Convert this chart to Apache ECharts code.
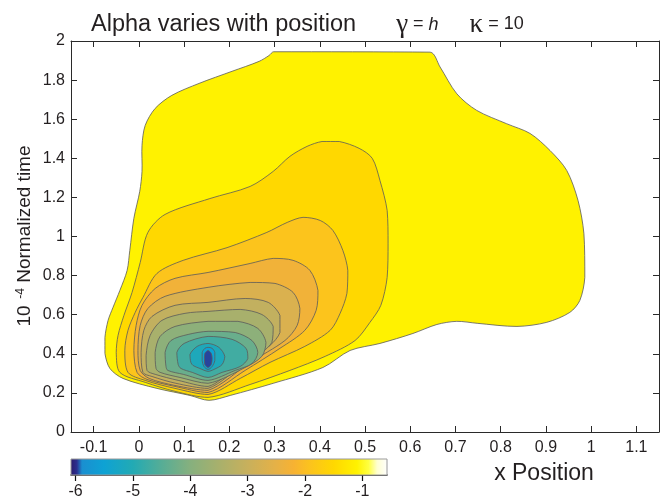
<!DOCTYPE html>
<html>
<head>
<meta charset="utf-8">
<script src="https://cdn.jsdelivr.net/npm/echarts@6/dist/echarts.min.js"></script>
<style>
  html, body { margin: 0; padding: 0; background: #ffffff; }
  #chart { width: 669px; height: 500px; }
</style>
</head>
<body>
<div id="chart"></div>
<script>
// ---- axis ticks ----
const xTicks = [-0.1, 0, 0.1, 0.2, 0.3, 0.4, 0.5, 0.6, 0.7, 0.8, 0.9, 1, 1.1];
const yTicks = [0, 0.2, 0.4, 0.6, 0.8, 1, 1.2, 1.4, 1.6, 1.8, 2];
const cbTicks = [-6, -5, -4, -3, -2, -1];

// ---- contour levels (log alpha), outermost first ----
const levels = [-1.1, -1.5, -1.9, -2.3, -2.7, -3.1, -3.5, -3.9, -4.3, -4.7, -5.1, -5.5, -5.95];

// ---- contour outlines, [x position, normalized time] ----
const contour0 = [[0.298,1.945],[0.644,1.943],[0.666,1.867],[0.703,1.730],[0.747,1.645],[0.813,1.577],[0.865,1.527],[0.909,1.440],[0.946,1.338],[0.971,1.184],[0.984,1.014],[0.986,0.791],[0.975,0.673],[0.953,0.612],[0.902,0.561],[0.836,0.540],[0.748,0.556],[0.703,0.566],[0.659,0.550],[0.606,0.504],[0.533,0.453],[0.467,0.417],[0.407,0.330],[0.297,0.249],[0.202,0.187],[0.155,0.162],[0.113,0.187],[0.040,0.223],[-0.035,0.274],[-0.064,0.325],[-0.075,0.402],[-0.075,0.484],[-0.068,0.571],[-0.057,0.638],[-0.042,0.724],[-0.026,0.826],[-0.020,0.929],[-0.011,1.093],[0.002,1.231],[0.007,1.333],[0.007,1.466],[0.014,1.568],[0.036,1.655],[0.073,1.722],[0.133,1.783],[0.206,1.845],[0.266,1.896],[0.288,1.926]];
const contour1 = [[-0.042,0.305],[-0.050,0.407],[-0.046,0.494],[-0.033,0.596],[-0.015,0.714],[0.003,0.867],[0.020,1.021],[0.058,1.113],[0.157,1.194],[0.246,1.256],[0.297,1.333],[0.334,1.410],[0.372,1.461],[0.405,1.486],[0.443,1.486],[0.487,1.451],[0.516,1.400],[0.533,1.287],[0.549,1.133],[0.551,0.966],[0.549,0.791],[0.535,0.648],[0.511,0.561],[0.478,0.468],[0.412,0.387],[0.334,0.315],[0.246,0.243],[0.153,0.177],[0.080,0.208],[0.014,0.254]];
const contour2 = [[-0.024,0.305],[-0.031,0.417],[-0.024,0.520],[-0.008,0.612],[0.009,0.688],[0.040,0.811],[0.098,0.878],[0.195,0.943],[0.283,1.021],[0.328,1.072],[0.363,1.098],[0.401,1.082],[0.429,1.031],[0.451,0.929],[0.462,0.827],[0.460,0.709],[0.445,0.607],[0.423,0.520],[0.367,0.438],[0.290,0.356],[0.224,0.274],[0.153,0.192],[0.080,0.223],[0.014,0.264]];
const contour3 = [[-0.004,0.305],[-0.011,0.417],[-0.006,0.545],[0.007,0.648],[0.036,0.734],[0.080,0.786],[0.153,0.816],[0.246,0.862],[0.297,0.888],[0.341,0.878],[0.378,0.827],[0.396,0.724],[0.392,0.622],[0.367,0.520],[0.312,0.428],[0.235,0.315],[0.153,0.202],[0.080,0.233],[0.018,0.269]];
const contour4 = [[0.003,0.315],[-0.002,0.417],[0.003,0.545],[0.020,0.632],[0.058,0.694],[0.153,0.740],[0.246,0.765],[0.301,0.760],[0.341,0.714],[0.356,0.632],[0.350,0.545],[0.323,0.468],[0.246,0.356],[0.153,0.213],[0.080,0.238],[0.023,0.274]];
const contour5 = [[0.009,0.305],[0.005,0.407],[0.011,0.520],[0.029,0.591],[0.080,0.648],[0.153,0.663],[0.235,0.683],[0.286,0.663],[0.312,0.596],[0.312,0.509],[0.290,0.443],[0.235,0.356],[0.153,0.223],[0.082,0.249],[0.029,0.284]];
const contour6 = [[0.018,0.315],[0.016,0.392],[0.025,0.494],[0.051,0.571],[0.102,0.607],[0.153,0.617],[0.224,0.627],[0.272,0.601],[0.297,0.540],[0.294,0.458],[0.263,0.392],[0.213,0.325],[0.153,0.233],[0.087,0.264],[0.036,0.295]];
const contour7 = [[0.038,0.325],[0.036,0.407],[0.047,0.489],[0.080,0.540],[0.153,0.566],[0.219,0.566],[0.263,0.530],[0.281,0.458],[0.272,0.387],[0.235,0.330],[0.153,0.249],[0.091,0.279],[0.047,0.305]];
const contour8 = [[0.060,0.335],[0.058,0.407],[0.071,0.468],[0.109,0.499],[0.153,0.515],[0.213,0.509],[0.250,0.468],[0.263,0.407],[0.250,0.350],[0.213,0.315],[0.153,0.264],[0.098,0.295],[0.064,0.315]];
const contour9 = [[0.087,0.345],[0.084,0.407],[0.100,0.453],[0.153,0.489],[0.206,0.474],[0.237,0.428],[0.241,0.376],[0.224,0.335],[0.184,0.305],[0.153,0.279],[0.118,0.305],[0.093,0.325]];
const contour10 = [[0.115,0.356],[0.113,0.397],[0.129,0.438],[0.153,0.453],[0.177,0.433],[0.190,0.387],[0.184,0.345],[0.166,0.320],[0.153,0.310],[0.135,0.325],[0.120,0.340]];
const contour11 = [[0.140,0.366],[0.140,0.407],[0.146,0.428],[0.153,0.433],[0.162,0.428],[0.168,0.407],[0.168,0.366],[0.162,0.335],[0.153,0.320],[0.144,0.335]];
const contour12 = [[0.145,0.376],[0.146,0.402],[0.153,0.417],[0.160,0.402],[0.162,0.376],[0.160,0.345],[0.153,0.330],[0.146,0.345]];

const contours = [contour0, contour1, contour2, contour3, contour4, contour5, contour6,
                  contour7, contour8, contour9, contour10, contour11, contour12];

// ---- colour scale ----
const cbMin = -6.08, cbMax = -0.57;
const colormap = [
  [-6.08, '#2b1b6b'], [-5.97, '#2b2f8f'], [-5.88, '#1a8fd0'], [-5.5, '#0ea2d4'],
  [-5.0, '#22aab4'], [-4.5, '#56ad96'], [-4.0, '#86b07e'], [-3.5, '#a8b06c'],
  [-3.0, '#c8b05c'], [-2.5, '#e6b146'], [-2.2, '#f7b232'], [-1.9, '#fcc41c'],
  [-1.5, '#ffd800'], [-1.1, '#fff200'], [-0.9, '#ffff40'], [-0.75, '#ffffd0'],
  [-0.57, '#ffffff']
];

function hexToRgb(h) {
  return [parseInt(h.slice(1, 3), 16), parseInt(h.slice(3, 5), 16), parseInt(h.slice(5, 7), 16)];
}
function colorAt(v) {
  if (v <= colormap[0][0]) return colormap[0][1];
  for (let i = 1; i < colormap.length; i++) {
    if (v <= colormap[i][0]) {
      const [v0, c0] = colormap[i - 1], [v1, c1] = colormap[i];
      const t = (v - v0) / (v1 - v0);
      const a = hexToRgb(c0), b = hexToRgb(c1);
      const m = a.map((x, k) => Math.round(x + (b[k] - x) * t));
      return 'rgb(' + m.join(',') + ')';
    }
  }
  return colormap[colormap.length - 1][1];
}

const font = 'Liberation Sans, Arial, Helvetica, sans-serif';
const ink = '#231f20';

function renderContour(params, api) {
  const idx = api.value(0);
  const pts = contours[idx].map(p => api.coord(p));
  const lo = [Infinity, Infinity], hi = [-Infinity, -Infinity];
  pts.forEach(p => {
    lo[0] = Math.min(lo[0], p[0]); lo[1] = Math.min(lo[1], p[1]);
    hi[0] = Math.max(hi[0], p[0]); hi[1] = Math.max(hi[1], p[1]);
  });
  return {
    type: 'polygon',
    shape: { points: pts, smooth: 0.3, smoothConstraint: [lo, hi] },
    style: { fill: colorAt(levels[idx]), stroke: '#5b5b5b', lineWidth: 0.8 }
  };
}

function renderColorbar(params, api) {
  const p0 = api.coord([api.value(0), api.value(1)]);
  const p1 = api.coord([api.value(2), api.value(3)]);
  const stops = colormap.map(([v, c]) => ({ offset: (v - cbMin) / (cbMax - cbMin), color: c }));
  return {
    type: 'rect',
    shape: { x: p0[0], y: p1[1], width: p1[0] - p0[0], height: p0[1] - p1[1] },
    style: { fill: new echarts.graphic.LinearGradient(0, 0, 1, 0, stops), stroke: '#9a9a9a', lineWidth: 1 }
  };
}

const axisLineStyle = { color: '#2a2a2a', width: 1 };
const labelStyle = { color: ink, fontFamily: font, fontSize: 16 };

const chart = echarts.init(document.getElementById('chart'), null, { renderer: 'canvas' });
chart.setOption({
  animation: false,
  backgroundColor: '#ffffff',
  title: {
    text: '{a|Alpha varies with position}{s1| }{g|γ}{e| = }{i|h}{s2| }{g|κ}{e| = 10}',
    left: 86, top: 6,
    textStyle: {
      fontWeight: 'normal',
      rich: {
        a: { fontFamily: font, fontSize: 23.5, fontWeight: 'normal', color: ink },
        s1: { fontFamily: font, fontSize: 16, width: 40 },
        s2: { fontFamily: font, fontSize: 16, width: 31 },
        g: { fontFamily: 'Liberation Serif, DejaVu Serif, serif', fontSize: 27, fontWeight: 'normal', color: ink },
        e: { fontFamily: font, fontSize: 18, fontWeight: 'normal', color: ink },
        i: { fontFamily: font, fontSize: 18, fontStyle: 'italic', fontWeight: 'normal', color: ink }
      }
    }
  },
  graphic: [
    {
      type: 'text', x: 25, y: 236, rotation: Math.PI / 2,
      style: {
        text: '{n|10}{p|  -4}{n| Normalized time}',
        align: 'center', verticalAlign: 'middle',
        rich: {
          n: { fontFamily: font, fontSize: 19, fill: ink },
          p: { fontFamily: font, fontSize: 12, fill: ink, verticalAlign: 'top', padding: [0, 0, 9, 0] }
        }
      }
    },
    {
      type: 'text', x: 544, y: 474,
      style: { text: 'x Position', fontFamily: font, fontSize: 23, fill: ink, align: 'center', verticalAlign: 'middle' }
    }
  ],
  grid: [
    { left: 71, top: 41, width: 588, height: 391 },
    { left: 71, top: 459, width: 316, height: 16 }
  ],
  xAxis: [
    {
      gridIndex: 0, type: 'value', min: -0.15, max: 1.15, position: 'bottom',
      axisLine: { show: true, onZero: false, lineStyle: axisLineStyle },
      axisTick: { show: true, inside: true, length: 6, customValues: xTicks, lineStyle: axisLineStyle },
      axisLabel: { show: true, customValues: xTicks, margin: 8, ...labelStyle },
      splitLine: { show: false }
    },
    {
      gridIndex: 0, type: 'value', min: -0.15, max: 1.15, position: 'top',
      axisLine: { show: true, onZero: false, lineStyle: axisLineStyle },
      axisTick: { show: true, inside: true, length: 6, customValues: xTicks, lineStyle: axisLineStyle },
      axisLabel: { show: false },
      splitLine: { show: false }
    },
    {
      gridIndex: 1, type: 'value', min: cbMin, max: cbMax, position: 'bottom',
      axisLine: { show: true, onZero: false, lineStyle: { color: '#111', width: 1.5 } },
      axisTick: { show: true, inside: false, length: 6, customValues: cbTicks, lineStyle: { color: '#111', width: 1.2 } },
      axisLabel: { show: true, customValues: cbTicks, margin: 9, color: ink, fontFamily: font, fontSize: 16 },
      splitLine: { show: false }
    }
  ],
  yAxis: [
    {
      gridIndex: 0, type: 'value', min: 0, max: 2, interval: 0.2, position: 'left',
      axisLine: { show: true, onZero: false, lineStyle: axisLineStyle },
      axisTick: { show: true, inside: true, length: 6, customValues: yTicks, lineStyle: axisLineStyle },
      axisLabel: { show: true, margin: 6, customValues: yTicks, ...labelStyle },
      splitLine: { show: false }
    },
    {
      gridIndex: 0, type: 'value', min: 0, max: 2, interval: 0.2, position: 'right',
      axisLine: { show: true, onZero: false, lineStyle: axisLineStyle },
      axisTick: { show: true, inside: true, length: 6, customValues: yTicks, lineStyle: axisLineStyle },
      axisLabel: { show: false },
      splitLine: { show: false }
    },
    {
      gridIndex: 1, type: 'value', min: 0, max: 1, show: false
    }
  ],
  series: [
    {
      type: 'custom',
      name: 'log alpha',
      xAxisIndex: 0, yAxisIndex: 0,
      renderItem: renderContour,
      encode: { x: -1, y: -1 },
      data: levels.map((v, i) => [i, v]),
      silent: true
    },
    {
      type: 'custom',
      name: 'colour bar',
      xAxisIndex: 2, yAxisIndex: 2,
      renderItem: renderColorbar,
      encode: { x: [0, 2], y: [1, 3] },
      data: [[cbMin, 0, cbMax, 1]],
      silent: true
    }
  ]
});
</script>
</body>
</html>
